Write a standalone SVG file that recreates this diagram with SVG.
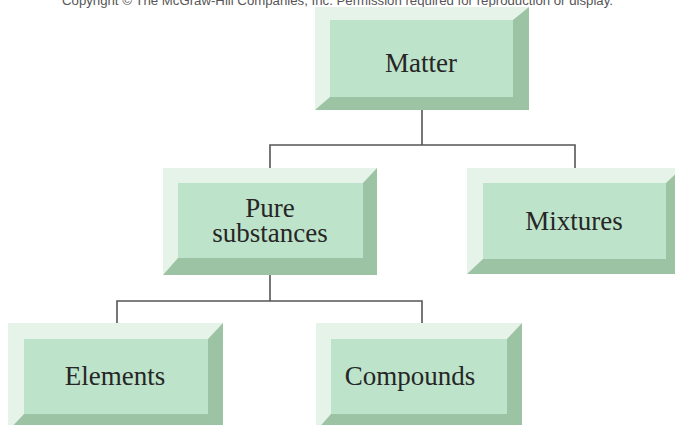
<svg xmlns="http://www.w3.org/2000/svg" width="675" height="425" viewBox="0 0 675 425">
<style>
.light{fill:#e5f3e9}
.dark{fill:#9dc3a5}
.face{fill:#bde3ca}
.lbl{font-family:"Liberation Serif","Times New Roman",serif;font-size:27px;fill:#262626;text-anchor:middle}
.conn{stroke:#555;stroke-width:1.6;fill:none}
.copy{font-family:"Liberation Sans",Arial,sans-serif;font-size:13px;fill:#555}
</style>
<rect width="675" height="425" fill="#fff"/>
<text class="copy" x="62" y="5" textLength="551" lengthAdjust="spacingAndGlyphs">Copyright © The McGraw-Hill Companies, Inc. Permission required for reproduction or display.</text>
<g id="connectors">
<path class="conn" d="M422,110V145M270,168V145H575V168"/>
<path class="conn" d="M270,275V301M117,323V301H422V323"/>
</g>
<g id="matter">
<rect class="light" x="315" y="7" width="214" height="103"/>
<polygon class="dark" points="529,7 529,110 315,110 330,97 513,97 513,20"/>
<rect class="face" x="330" y="20" width="183" height="77"/>
<text class="lbl" x="421" y="72">Matter</text>
</g>
<g id="pure">
<rect class="light" x="163" y="168" width="214" height="107"/>
<polygon class="dark" points="377,168 377,275 163,275 178,258 363,258 363,183"/>
<rect class="face" x="178" y="183" width="185" height="75"/>
<text class="lbl" x="270" y="217">Pure</text>
<text class="lbl" x="270" y="242">substances</text>
</g>
<g id="mixtures">
<rect class="light" x="467" y="168" width="215" height="106"/>
<polygon class="dark" points="682,168 682,274 467,274 483,259 666,259 666,183"/>
<rect class="face" x="483" y="183" width="183" height="76"/>
<text class="lbl" x="574" y="230">Mixtures</text>
</g>
<g id="elements">
<rect class="light" x="8" y="323" width="215" height="108"/>
<polygon class="dark" points="223,323 223,431 8,431 24,414 208,414 208,339"/>
<rect class="face" x="24" y="339" width="184" height="75"/>
<text class="lbl" x="115" y="385">Elements</text>
</g>
<g id="compounds">
<rect class="light" x="316" y="323" width="206" height="108"/>
<polygon class="dark" points="522,323 522,431 316,431 331,414 507,414 507,339"/>
<rect class="face" x="331" y="339" width="176" height="75"/>
<text class="lbl" x="410" y="385">Compounds</text>
</g>
</svg>
